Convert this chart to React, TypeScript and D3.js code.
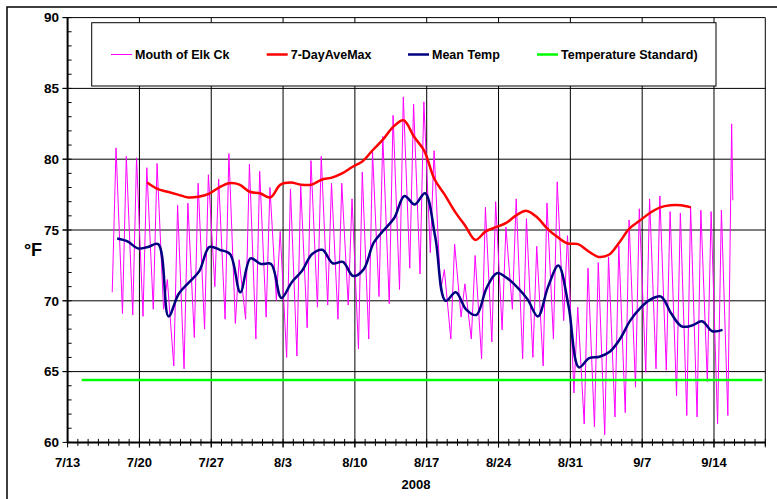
import React from "react";
import * as d3 from "d3";

// ---- data ----
const yearStart = Date.UTC(2008, 6, 13); // 7/13/2008
const axisEnd = Date.UTC(2008, 8, 19);
const weekTickLabels = ["7/13", "7/20", "7/27", "8/3", "8/10", "8/17", "8/24", "8/31", "9/7", "9/14"];
const yTicks = [60, 65, 70, 75, 80, 85, 90];

// Mouth of Elk Ck: daily min / max readings, starting 7/17
const elkFirstDay = Date.UTC(2008, 6, 17);
const elkDailyMin = [
  70.6, 69.1, 69.0, 68.9, 69.4, 69.4, 65.4, 65.2, 67.4, 68.0,
  71.0, 68.7, 68.4, 68.7, 67.3, 68.85, 70.0, 66.0, 66.1, 68.1,
  69.55, 69.7, 68.7, 69.7, 66.6, 67.3, 70.3, 69.8, 70.8, 72.3,
  71.9, 73.4, 70.7, 67.3, 68.85, 67.3, 65.9, 67.1, 67.95, 69.4,
  65.9, 66.0, 65.4, 67.3, 68.6, 63.5, 61.3, 61.1, 60.55, 61.8,
  62.1, 63.9, 64.95, 65.2, 65.1, 63.3, 61.9, 61.8, 64.3, 61.3,
  61.9,
];
const elkDailyMax = [
  80.8, 80.2, 80.1, 79.4, 79.7, 71.5, 76.75, 76.9, 78.3, 78.9,
  78.6, 80.4, 72.9, 79.65, 79.15, 78.0, 74.9, 77.9, 78.1, 79.9,
  80.2, 78.3, 78.3, 77.2, 79.1, 80.5, 81.6, 83.1, 84.4, 83.9,
  84.05, 80.6, 72.2, 74.0, 71.2, 73.2, 76.6, 77.0, 75.2, 77.2,
  75.8, 73.85, 76.9, 78.4, 74.6, 69.55, 72.3, 72.7, 73.1, 73.9,
  75.7, 76.5, 77.2, 77.4, 76.3, 76.2, 76.6, 76.4, 76.3, 76.4,
  82.5,
];
const elkLastReading = { time: Date.UTC(2008, 8, 15, 20), value: 77.1 };

// 7-DayAveMax, daily from 7/20
const aveMaxFirstDay = Date.UTC(2008, 6, 20, 18);
const aveMax = [
  78.35, 77.9, 77.7, 77.5, 77.3, 77.35, 77.55, 78.0, 78.3, 78.2,
  77.7, 77.6, 77.3, 78.2, 78.35, 78.2, 78.2, 78.55, 78.7, 79.0,
  79.45, 79.85, 80.65, 81.4, 82.3, 82.75, 81.6, 80.6, 78.6, 77.5,
  76.3, 75.3, 74.3, 74.9, 75.2, 75.5, 76.05, 76.35, 75.9, 75.1,
  74.5, 74.05, 74.0, 73.5, 73.1, 73.25, 74.1, 75.1, 75.65, 76.2,
  76.6, 76.75, 76.75, 76.6,
];

// Mean Temp, daily from 7/17
const meanFirstDay = Date.UTC(2008, 6, 17, 20);
const meanTemp = [
  74.4, 74.2, 73.7, 73.8, 74.0, 68.9, 70.5, 71.3, 72.1, 73.8,
  73.6, 73.3, 70.6, 73.0, 72.6, 72.6, 70.2, 71.3, 72.1, 73.3,
  73.6, 72.65, 72.75, 71.75, 72.2, 74.1, 75.0, 75.85, 77.4, 76.8,
  77.6, 74.5, 70.0, 70.6, 69.4, 69.0, 70.9, 71.95, 71.6, 70.95,
  70.1, 68.9, 71.0, 72.5, 69.6, 65.3, 65.95, 66.05, 66.4, 67.3,
  68.6, 69.5, 70.1, 70.3, 69.1, 68.2, 68.25, 68.55, 67.85, 67.95,
];

// Temperature Standard
const standardValue = 64.4;
const standardStart = Date.UTC(2008, 6, 14, 9);
const standardEnd = Date.UTC(2008, 8, 18, 17);

const legendItems = [
  { label: "Mouth of Elk Ck", color: "#FF00FF", width: 1 },
  { label: "7-DayAveMax", color: "#FF0000", width: 2.5 },
  { label: "Mean Temp", color: "#000080", width: 2.5 },
  { label: "Temperature Standard)", color: "#00FF00", width: 2.5 },
];

const DAY = 86400000;
const FONT = "'Liberation Sans', Arial, sans-serif";

export default function App() {
  const left = 67.6, right = 765.3, top = 17.6, bottom = 442.4;
  const x = d3.scaleUtc().domain([new Date(yearStart), new Date(axisEnd)]).range([left, right]);
  const y = d3.scaleLinear().domain([60, 90]).range([bottom, top]);

  // Elk Ck series
  const elk: { t: number; v: number }[] = [];
  elkDailyMin.forEach((mn, i) => {
    const day = elkFirstDay + i * DAY;
    elk.push({ t: day + 8.4 * 3600000, v: mn });
    elk.push({ t: day + 17.3 * 3600000, v: elkDailyMax[i] });
  });
  elk.push({ t: elkLastReading.time, v: elkLastReading.value });

  const lineLin = d3.line<{ t: number; v: number }>()
    .x((d) => x(new Date(d.t)))
    .y((d) => y(d.v));
  const lineSmooth = d3.line<{ t: number; v: number }>()
    .x((d) => x(new Date(d.t)))
    .y((d) => y(d.v))
    .curve(d3.curveCatmullRom.alpha(0.5));

  const aveData = aveMax.map((v, i) => ({ t: aveMaxFirstDay + i * DAY, v }));
  const meanData = meanTemp.map((v, i) => ({ t: meanFirstDay + i * DAY, v }));

  const dayTicks = d3.utcDay.range(new Date(yearStart), new Date(axisEnd + 1));
  const weekTicks = weekTickLabels.map((_, i) => new Date(yearStart + i * 7 * DAY));
  const minorY = d3.range(60, 91, 1);

  const legendX = [111, 266.7, 408, 537];

  return (
    <svg width={777} height={499} style={{ position: "absolute", left: 0, top: 0, background: "#fff" }}>
      <rect x={0} y={0} width={777} height={499} fill="#fff" />
      {/* outer frame */}
      <rect x={7} y={7} width={790} height={520} fill="none" stroke="#000" strokeWidth={1.5} />

      {/* horizontal gridlines */}
      {yTicks.slice(1).map((v) => (
        <line key={"hg" + v} x1={left - 5} x2={right} y1={y(v)} y2={y(v)} stroke="#000" strokeWidth={1} />
      ))}
      {/* vertical gridlines */}
      {weekTicks.slice(1).map((d, i) => (
        <line key={"vg" + i} x1={x(d)} x2={x(d)} y1={top} y2={bottom + 5} stroke="#000" strokeWidth={1} />
      ))}
      <line x1={right} x2={right} y1={top} y2={bottom + 5} stroke="#000" strokeWidth={1} />

      {/* series */}
      <path d={lineLin(elk) || ""} fill="none" stroke="#FF00FF" strokeWidth={1} />
      <line x1={x(new Date(standardStart))} x2={x(new Date(standardEnd))} y1={y(standardValue)} y2={y(standardValue)} stroke="#00FF00" strokeWidth={2.5} />
      <path d={lineSmooth(aveData) || ""} fill="none" stroke="#FF0000" strokeWidth={2.5} />
      <path d={lineSmooth(meanData) || ""} fill="none" stroke="#000080" strokeWidth={2.5} />

      {/* axes */}
      <line x1={left} x2={left} y1={top} y2={bottom} stroke="#000" strokeWidth={2} />
      <line x1={left} x2={right} y1={bottom} y2={bottom} stroke="#000" strokeWidth={2} />
      {minorY.map((v) => (
        <line key={"my" + v} x1={v % 5 === 0 ? left - 5 : left} x2={left + 4} y1={y(v)} y2={y(v)} stroke="#000" strokeWidth={1} />
      ))}
      {dayTicks.map((d, i) => (
        <line key={"dx" + i} x1={x(d)} x2={x(d)} y1={bottom - 3.5} y2={bottom + (i % 7 === 0 ? 5 : 3.5)} stroke="#000" strokeWidth={1} />
      ))}

      {/* y labels */}
      {yTicks.map((v) => (
        <text key={"yl" + v} x={59} y={y(v)} dy="0.35em" textAnchor="end" fontFamily={FONT} fontWeight="bold" fontSize={13.5}>{v}</text>
      ))}
      {/* x labels */}
      {weekTicks.map((d, i) => (
        <text key={"xl" + i} x={x(d)} y={467} textAnchor="middle" fontFamily={FONT} fontWeight="bold" fontSize={13}>{weekTickLabels[i]}</text>
      ))}
      <text x={416} y={489} textAnchor="middle" fontFamily={FONT} fontWeight="bold" fontSize={13}>2008</text>
      <text x={33} y={256} textAnchor="middle" fontFamily={FONT} fontWeight="bold" fontSize={18}>°F</text>

      {/* legend */}
      <rect x={91.7} y={22.7} width={624.3} height={63.3} fill="#fff" stroke="#000" strokeWidth={1} />
      {legendItems.map((it, i) => (
        <g key={"lg" + i}>
          <line x1={legendX[i]} x2={legendX[i] + 21} y1={54.5} y2={54.5} stroke={it.color} strokeWidth={it.width} />
          <text x={legendX[i] + 24} y={54.5} dy="0.35em" fontFamily={FONT} fontWeight="bold" fontSize={12.5}>{it.label}</text>
        </g>
      ))}
    </svg>
  );
}
